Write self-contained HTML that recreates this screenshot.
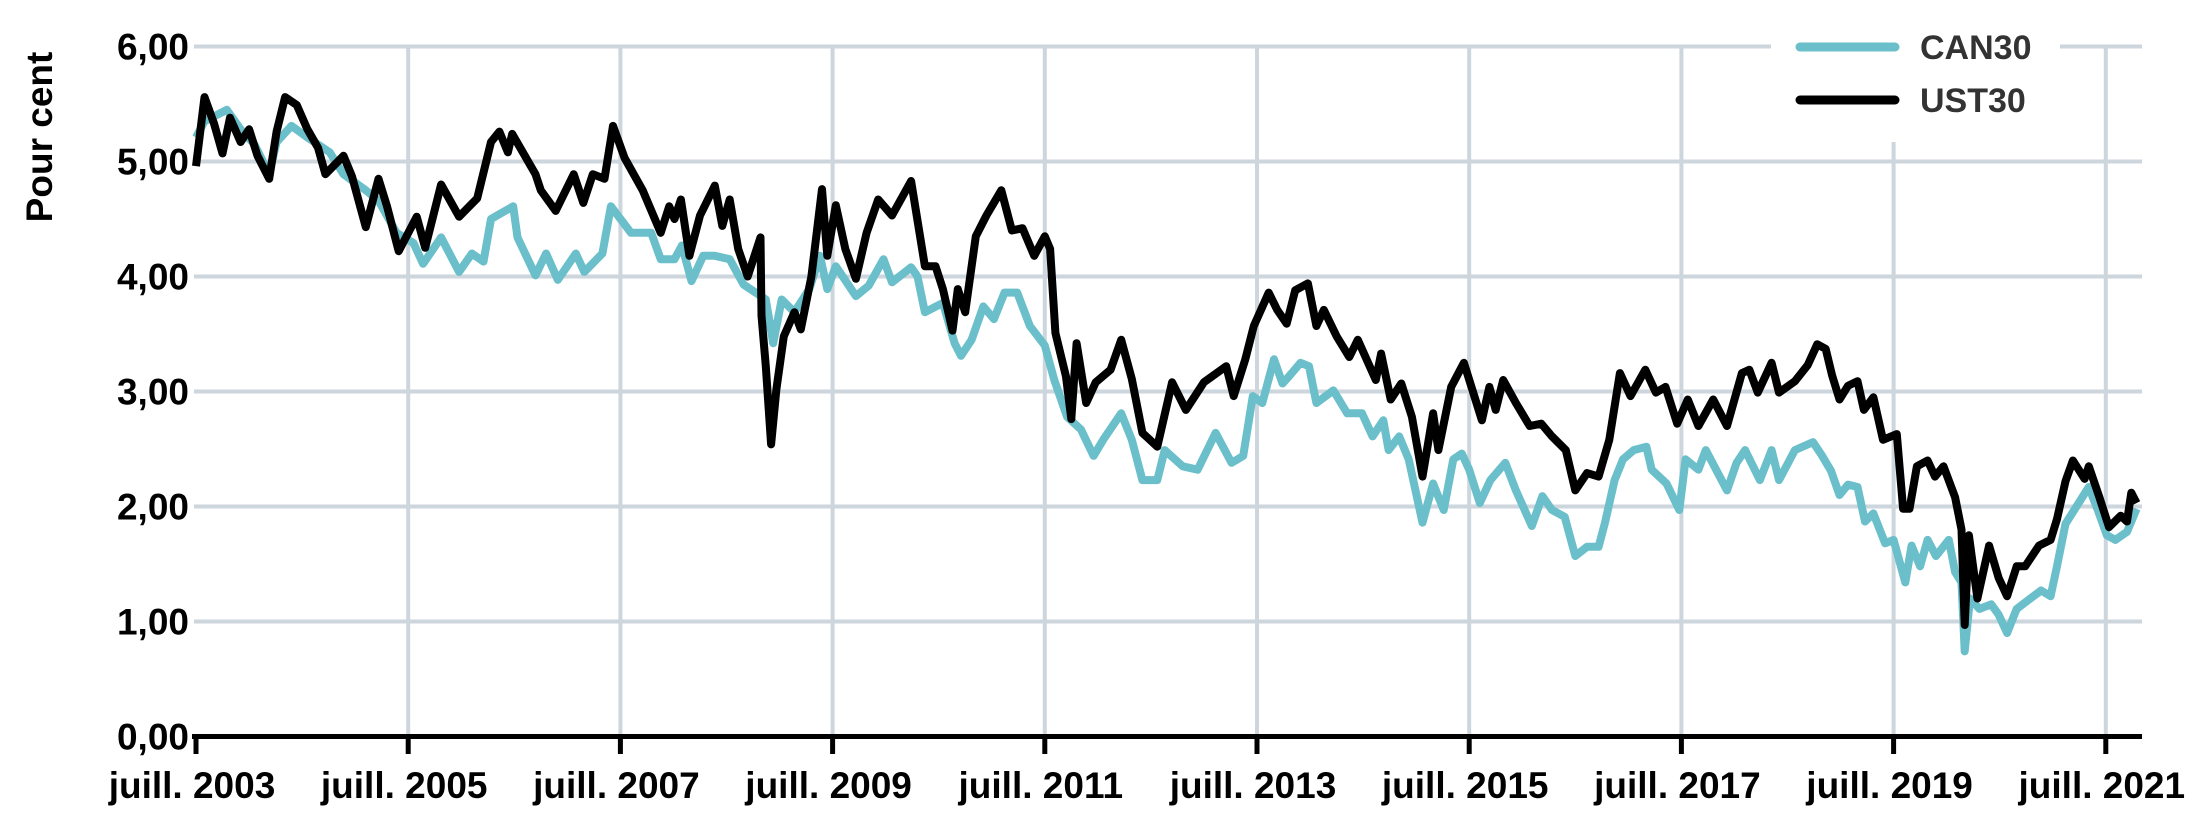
<!DOCTYPE html>
<html><head><meta charset="utf-8"><title>CAN30 vs UST30</title>
<style>
html,body{margin:0;padding:0;background:#fff;}
svg{display:block;font-family:"Liberation Sans",sans-serif;font-weight:bold;}
</style></head>
<body>
<svg id="chart" width="2210" height="830" viewBox="0 0 2210 830" xmlns="http://www.w3.org/2000/svg">
<g id="grid"></g>
<g id="series"></g>
<g id="axes"></g>
<g id="legend"></g>
<text transform="translate(52,137) rotate(-90)" text-anchor="middle" font-size="37" fill="#000">Pour cent</text>
</svg>
<script>
const yTicks = [0,1,2,3,4,5,6];
const yTickLabels = ["0,00","1,00","2,00","3,00","4,00","5,00","6,00"];
const xTickYears = [2003.5,2005.5,2007.5,2009.5,2011.5,2013.5,2015.5,2017.5,2019.5,2021.5];
const xTickLabels = ["juill. 2003","juill. 2005","juill. 2007","juill. 2009","juill. 2011","juill. 2013","juill. 2015","juill. 2017","juill. 2019","juill. 2021"];
const seriesNames = ["CAN30","UST30"];

const canDates = [2003.5,2003.58,2003.79,2003.92,2004.05,2004.19,2004.26,2004.4,2004.55,2004.76,2004.89,2005.1,2005.22,2005.39,2005.55,2005.64,2005.81,2005.98,2006.1,2006.21,2006.28,2006.49,2006.53,2006.7,2006.8,2006.91,2007.08,2007.16,2007.33,2007.41,2007.6,2007.79,2007.88,2008.01,2008.08,2008.17,2008.28,2008.39,2008.53,2008.66,2008.87,2008.94,2009.02,2009.14,2009.28,2009.38,2009.45,2009.53,2009.72,2009.84,2009.98,2010.06,2010.24,2010.3,2010.37,2010.54,2010.65,2010.71,2010.81,2010.92,2011.02,2011.12,2011.24,2011.36,2011.5,2011.59,2011.71,2011.84,2011.96,2012.05,2012.22,2012.32,2012.42,2012.56,2012.63,2012.8,2012.94,2013.11,2013.26,2013.37,2013.46,2013.55,2013.66,2013.74,2013.8,2013.91,2013.99,2014.06,2014.22,2014.35,2014.49,2014.59,2014.69,2014.74,2014.84,2014.93,2015.06,2015.16,2015.26,2015.35,2015.43,2015.5,2015.6,2015.7,2015.84,2015.94,2016.09,2016.19,2016.28,2016.4,2016.5,2016.61,2016.72,2016.78,2016.87,2016.95,2017.05,2017.17,2017.22,2017.36,2017.48,2017.54,2017.66,2017.73,2017.93,2018.02,2018.1,2018.24,2018.35,2018.42,2018.57,2018.74,2018.82,2018.91,2018.99,2019.07,2019.16,2019.23,2019.31,2019.42,2019.5,2019.61,2019.67,2019.75,2019.82,2019.9,2020.02,2020.08,2020.14,2020.17,2020.22,2020.31,2020.42,2020.49,2020.57,2020.66,2020.76,2020.89,2020.98,2021.04,2021.12,2021.21,2021.34,2021.42,2021.51,2021.59,2021.7,2021.79];
const canValues = [5.21,5.35,5.45,5.28,5.15,4.89,5.17,5.31,5.21,5.08,4.89,4.75,4.66,4.38,4.29,4.11,4.34,4.04,4.2,4.13,4.5,4.61,4.34,4.01,4.2,3.97,4.2,4.04,4.2,4.61,4.38,4.38,4.15,4.15,4.27,3.96,4.18,4.18,4.15,3.93,3.8,3.42,3.8,3.69,3.89,4.18,3.89,4.09,3.83,3.92,4.15,3.95,4.08,4.0,3.69,3.77,3.42,3.31,3.45,3.74,3.63,3.86,3.86,3.57,3.4,3.1,2.78,2.67,2.44,2.58,2.81,2.58,2.23,2.23,2.49,2.35,2.32,2.64,2.38,2.44,2.96,2.9,3.28,3.07,3.13,3.25,3.22,2.9,3.01,2.81,2.81,2.61,2.75,2.49,2.61,2.41,1.86,2.2,1.97,2.41,2.46,2.32,2.03,2.23,2.38,2.14,1.83,2.09,1.97,1.91,1.57,1.65,1.65,1.86,2.23,2.41,2.49,2.52,2.32,2.2,1.97,2.41,2.32,2.49,2.14,2.38,2.49,2.23,2.49,2.23,2.49,2.56,2.45,2.31,2.1,2.19,2.17,1.87,1.94,1.68,1.71,1.34,1.66,1.48,1.71,1.57,1.71,1.43,1.34,0.74,1.2,1.11,1.15,1.06,0.9,1.11,1.18,1.27,1.22,1.48,1.85,1.98,2.17,1.98,1.75,1.71,1.78,1.98];

const ustDates = [2003.5,2003.58,2003.67,2003.75,2003.82,2003.92,2004.0,2004.08,2004.19,2004.26,2004.34,2004.45,2004.55,2004.65,2004.72,2004.89,2004.97,2005.1,2005.22,2005.3,2005.41,2005.58,2005.66,2005.81,2005.98,2006.15,2006.28,2006.36,2006.44,2006.48,2006.7,2006.75,2006.89,2007.06,2007.15,2007.24,2007.35,2007.43,2007.54,2007.71,2007.88,2007.96,2008.01,2008.07,2008.15,2008.25,2008.39,2008.46,2008.53,2008.61,2008.7,2008.82,2008.83,2008.87,2008.92,2008.97,2009.04,2009.14,2009.2,2009.3,2009.4,2009.45,2009.53,2009.62,2009.72,2009.82,2009.93,2010.06,2010.24,2010.37,2010.47,2010.54,2010.63,2010.68,2010.75,2010.85,2010.95,2011.09,2011.19,2011.29,2011.4,2011.5,2011.55,2011.6,2011.7,2011.75,2011.8,2011.89,2011.98,2012.12,2012.22,2012.32,2012.42,2012.56,2012.7,2012.83,2013.0,2013.21,2013.28,2013.39,2013.47,2013.61,2013.69,2013.78,2013.86,2013.98,2014.06,2014.13,2014.25,2014.37,2014.45,2014.62,2014.67,2014.76,2014.86,2014.96,2015.06,2015.16,2015.21,2015.33,2015.45,2015.62,2015.69,2015.75,2015.82,2015.94,2016.07,2016.18,2016.28,2016.41,2016.5,2016.61,2016.72,2016.82,2016.92,2017.02,2017.16,2017.26,2017.35,2017.46,2017.56,2017.66,2017.8,2017.93,2018.07,2018.14,2018.22,2018.35,2018.42,2018.57,2018.69,2018.78,2018.86,2018.92,2018.99,2019.07,2019.16,2019.22,2019.31,2019.4,2019.53,2019.59,2019.65,2019.72,2019.82,2019.89,2019.97,2020.08,2020.14,2020.17,2020.21,2020.29,2020.4,2020.49,2020.57,2020.66,2020.74,2020.87,2020.98,2021.04,2021.12,2021.19,2021.3,2021.34,2021.44,2021.53,2021.64,2021.7,2021.74,2021.79];
const ustValues = [4.96,5.56,5.33,5.07,5.38,5.17,5.28,5.05,4.85,5.26,5.56,5.49,5.28,5.12,4.89,5.05,4.87,4.43,4.85,4.61,4.22,4.52,4.25,4.8,4.52,4.68,5.17,5.26,5.08,5.24,4.89,4.75,4.57,4.89,4.64,4.89,4.85,5.31,5.03,4.75,4.38,4.61,4.5,4.67,4.18,4.53,4.79,4.44,4.67,4.24,4.0,4.34,3.66,3.22,2.54,3.02,3.48,3.69,3.54,4.0,4.76,4.18,4.62,4.24,3.98,4.38,4.67,4.53,4.83,4.09,4.09,3.89,3.53,3.89,3.69,4.35,4.53,4.75,4.4,4.42,4.18,4.35,4.24,3.51,3.13,2.76,3.42,2.9,3.08,3.19,3.45,3.11,2.64,2.52,3.08,2.84,3.08,3.22,2.96,3.28,3.57,3.86,3.71,3.59,3.88,3.94,3.57,3.71,3.48,3.3,3.45,3.1,3.33,2.93,3.07,2.78,2.26,2.81,2.49,3.04,3.25,2.75,3.04,2.84,3.1,2.9,2.7,2.72,2.61,2.49,2.14,2.29,2.26,2.58,3.16,2.96,3.19,2.99,3.04,2.72,2.93,2.7,2.93,2.7,3.16,3.19,2.99,3.25,2.99,3.09,3.23,3.41,3.37,3.14,2.93,3.05,3.09,2.84,2.95,2.58,2.63,1.98,1.98,2.35,2.4,2.26,2.35,2.08,1.8,0.97,1.75,1.2,1.66,1.38,1.22,1.48,1.48,1.66,1.71,1.89,2.22,2.4,2.24,2.35,2.08,1.82,1.92,1.87,2.12,2.03];

const NS = "http://www.w3.org/2000/svg";
const X0 = 196, PXYR = 106.1, Y0 = 736.5, PXV = 115;
function xScale(year){ return X0 + (year - 2003.5) * PXYR; }
function yScale(v){ return Y0 - v * PXV; }
const plotLeft = 194, plotRight = 2142;
function mk(tag, attrs, parent){
  const el = document.createElementNS(NS, tag);
  for (const k in attrs) el.setAttribute(k, attrs[k]);
  parent.appendChild(el);
  return el;
}
const grid = document.getElementById('grid');
const axes = document.getElementById('axes');
const series = document.getElementById('series');
const legend = document.getElementById('legend');

yTicks.forEach((v, i) => {
  if (v > 0) {
    const l = mk('line', {x1: plotLeft, x2: plotRight, y1: yScale(v), y2: yScale(v), stroke: '#cdd6dc', 'stroke-width': 4}, grid);
    
    
  }
  const t = mk('text', {x: 189, y: yScale(v) + 13, 'text-anchor': 'end', 'font-size': 37, fill: '#000'}, axes);
  t.textContent = yTickLabels[i];
  
  
});
xTickYears.forEach((yr, i) => {
  const x = xScale(yr);
  if (i > 0) {
    const top = (yr === 2019.5) ? 142 : yScale(6);
    const g = mk('line', {x1: x, x2: x, y1: top, y2: Y0, stroke: '#cdd6dc', 'stroke-width': 4}, grid);
    
    
  }
  const tk = mk('line', {x1: x, x2: x, y1: Y0, y2: 754, stroke: '#000', 'stroke-width': 5}, axes);
  
  
  const t = mk('text', {x: x - 4, y: 798, 'text-anchor': 'middle', 'font-size': 37, fill: '#000'}, axes);
  t.textContent = xTickLabels[i];
  
  
});
const lb = mk('rect', {x: 1771, y: 0, width: 289, height: 140, fill: '#fff'}, grid);



const ax = mk('line', {x1: plotLeft - 2, x2: plotRight, y1: Y0, y2: Y0, stroke: '#000', 'stroke-width': 5}, axes);



function path(dates, vals){
  return dates.map((d, i) => (i ? 'L' : 'M') + xScale(d).toFixed(1) + ',' + yScale(vals[i]).toFixed(1)).join('');
}
const pc = mk('path', {d: path(canDates, canValues), fill: 'none', stroke: '#6abfca', 'stroke-width': 8, 'stroke-linejoin': 'round'}, series);


const pu = mk('path', {d: path(ustDates, ustValues), fill: 'none', stroke: '#000', 'stroke-width': 8, 'stroke-linejoin': 'round'}, series);



const legColors = ['#6abfca', '#000'];
seriesNames.forEach((n, i) => {
  const y = 47 + i * 53;
  const l = mk('line', {x1: 1800, x2: 1895, y1: y, y2: y, stroke: legColors[i], 'stroke-width': 9, 'stroke-linecap': 'round'}, legend);
  
  
  const t = mk('text', {x: 1920, y: y + 12, 'font-size': 34, fill: '#333'}, legend);
  t.textContent = n;
  
  
});
</script>
</body></html>
